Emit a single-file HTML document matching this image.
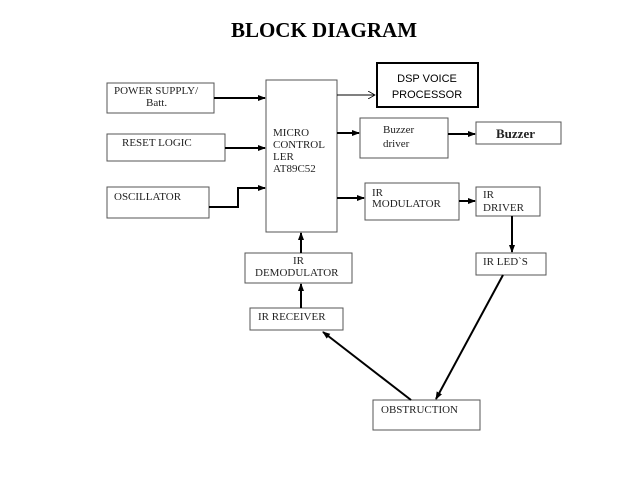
<!DOCTYPE html>
<html><head><style>
body{margin:0;background:#fff;}
</style></head><body>
<svg width="638" height="479" xmlns="http://www.w3.org/2000/svg">
<defs>
<marker id="a" markerWidth="8" markerHeight="8" refX="7" refY="4" orient="auto" markerUnits="userSpaceOnUse"><path d="M0,1 L8,4 L0,7 z" fill="#000"/></marker>
<marker id="o" markerWidth="8" markerHeight="8" refX="7" refY="4" orient="auto" markerUnits="userSpaceOnUse"><path d="M0,0 L7,4 L0,8" fill="none" stroke="#000" stroke-width="0.8"/></marker>
</defs>
<text x="324" y="37" text-anchor="middle" font-family="Liberation Serif, serif" font-weight="bold" font-size="21">BLOCK DIAGRAM</text>
<g fill="#fff" stroke="#555" stroke-width="1">
<rect x="107" y="83" width="107" height="30"/>
<rect x="107" y="134" width="118" height="27"/>
<rect x="107" y="187" width="102" height="31"/>
<rect x="266" y="80" width="71" height="152"/>
<rect x="360" y="118" width="88" height="40"/>
<rect x="476" y="122" width="85" height="22"/>
<rect x="365" y="183" width="94" height="37"/>
<rect x="476" y="187" width="64" height="29"/>
<rect x="476" y="253" width="70" height="22"/>
<rect x="245" y="253" width="107" height="30"/>
<rect x="250" y="308" width="93" height="22"/>
<rect x="373" y="400" width="107" height="30"/>
</g>
<rect x="377" y="63" width="101" height="44" fill="#fff" stroke="#000" stroke-width="2"/>
<g stroke="#000" stroke-width="2" fill="none">
<line x1="214" y1="98" x2="265" y2="98" marker-end="url(#a)"/>
<line x1="225" y1="148" x2="265" y2="148" marker-end="url(#a)"/>
<polyline points="209,207 238,207 238,188 265,188" marker-end="url(#a)"/>
<line x1="337" y1="133" x2="359" y2="133" marker-end="url(#a)"/>
<line x1="448" y1="134" x2="475" y2="134" marker-end="url(#a)"/>
<line x1="337" y1="198" x2="364" y2="198" marker-end="url(#a)"/>
<line x1="459" y1="201" x2="475" y2="201" marker-end="url(#a)"/>
<line x1="512" y1="216" x2="512" y2="252" marker-end="url(#a)"/>
<line x1="301" y1="253" x2="301" y2="233" marker-end="url(#a)"/>
<line x1="301" y1="308" x2="301" y2="284" marker-end="url(#a)"/>
<line x1="503" y1="275" x2="436" y2="399" marker-end="url(#a)"/>
<line x1="411" y1="400" x2="323" y2="332" marker-end="url(#a)"/>
</g>
<line x1="337" y1="95" x2="375" y2="95" stroke="#000" stroke-width="1" marker-end="url(#o)"/>
<g font-family="Liberation Serif, serif" font-size="11" fill="#222">
<text x="114" y="94">POWER SUPPLY/</text>
<text x="146" y="106">Batt.</text>
<text x="122" y="146">RESET LOGIC</text>
<text x="114" y="200">OSCILLATOR</text>
<text x="273" y="136">MICRO</text>
<text x="273" y="148">CONTROL</text>
<text x="273" y="160">LER</text>
<text x="273" y="172">AT89C52</text>
<text x="383" y="133">Buzzer</text>
<text x="383" y="147">driver</text>
<text x="496" y="138" font-weight="bold" font-size="13">Buzzer</text>
<text x="372" y="196">IR</text>
<text x="372" y="207">MODULATOR</text>
<text x="483" y="198">IR</text>
<text x="483" y="211">DRIVER</text>
<text x="483" y="265">IR LED`S</text>
<text x="293" y="264">IR</text>
<text x="255" y="276">DEMODULATOR</text>
<text x="258" y="320">IR RECEIVER</text>
<text x="381" y="413">OBSTRUCTION</text>
</g>
<g font-family="Liberation Sans, sans-serif" font-size="11" fill="#000" text-anchor="middle">
<text x="427" y="82">DSP VOICE</text>
<text x="427" y="98">PROCESSOR</text>
</g>
</svg>
</body></html>
